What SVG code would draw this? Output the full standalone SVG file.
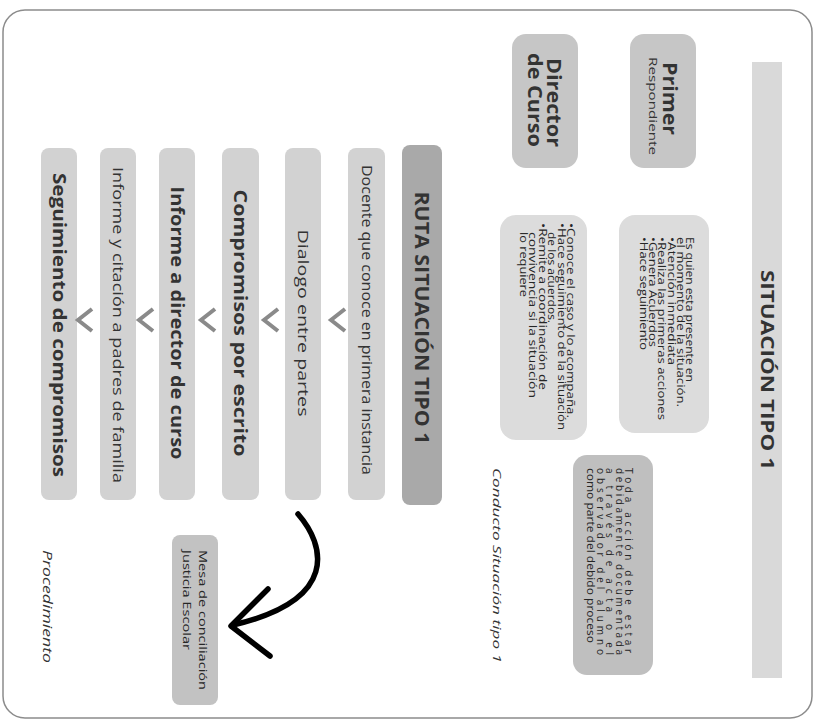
<svg xmlns="http://www.w3.org/2000/svg" width="819" height="722" viewBox="0 0 819 722">
<style>
text{font-family:"Open Sans","DejaVu Sans",sans-serif;fill:#333}
.b{font-weight:bold}
.sm{font-size:10px;fill:#262626}
.it{font-style:italic}
.step{fill:#d2d2d2}
.chev{fill:none;stroke:#8a8a8a;stroke-width:4}
</style>
<rect x="3" y="10" width="809" height="708" rx="22" fill="#fff" stroke="#8c8c8c" stroke-width="1.5"/>
<g transform="translate(819,0) rotate(90)">
  <g id="title">
    <rect x="62" y="37" width="616" height="30" fill="#d9d9d9"/>
    <text x="370" y="58" class="b" font-size="18" text-anchor="middle" textLength="200" lengthAdjust="spacingAndGlyphs">SITUACIÓN TIPO 1</text>
  </g>
  <g id="primer">
    <rect x="34" y="123" width="134" height="66" rx="14" fill="#c6c6c6"/>
    <text x="62" y="156" class="b" font-size="20" textLength="73" lengthAdjust="spacingAndGlyphs">Primer</text>
    <text x="57" y="170" font-size="11" textLength="98" lengthAdjust="spacingAndGlyphs">Respondiente</text>
  </g>
  <g id="director">
    <rect x="34" y="241" width="134" height="66" rx="14" fill="#c6c6c6"/>
    <text x="58" y="272" class="b" font-size="20" textLength="89" lengthAdjust="spacingAndGlyphs">Director</text>
    <text x="53" y="291" class="b" font-size="20" textLength="94" lengthAdjust="spacingAndGlyphs">de Curso</text>
  </g>
  <g id="box-primer">
    <rect x="215" y="110" width="218" height="90" rx="16" fill="#dcdcdc"/>
    <text class="sm">
      <tspan x="237" y="133" textLength="145" lengthAdjust="spacingAndGlyphs">Es quien esta presente en</tspan>
      <tspan x="237" y="142.2" textLength="170" lengthAdjust="spacingAndGlyphs">el momento de la situación.</tspan>
      <tspan x="237" y="151.4" textLength="128" lengthAdjust="spacingAndGlyphs">•Atención inmediata</tspan>
      <tspan x="237" y="160.6" textLength="183" lengthAdjust="spacingAndGlyphs">•Realiza las primeras acciones</tspan>
      <tspan x="237" y="169.8" textLength="110" lengthAdjust="spacingAndGlyphs">•Genera Acuerdos</tspan>
      <tspan x="237" y="179" textLength="113" lengthAdjust="spacingAndGlyphs">•Hace seguimiento</tspan>
    </text>
  </g>
  <g id="box-director">
    <rect x="215" y="232" width="225" height="87" rx="16" fill="#dcdcdc"/>
    <text class="sm">
      <tspan x="223" y="252" textLength="195" lengthAdjust="spacingAndGlyphs">•Conoce el caso y lo acompaña.</tspan>
      <tspan x="223" y="261.4" textLength="207" lengthAdjust="spacingAndGlyphs">•Hace seguimiento de la situación</tspan>
      <tspan x="232" y="270.8" textLength="91" lengthAdjust="spacingAndGlyphs">de los acuerdos.</tspan>
      <tspan x="223" y="280.2" textLength="167" lengthAdjust="spacingAndGlyphs">•Remite a coordinación de</tspan>
      <tspan x="232" y="289.6" textLength="166" lengthAdjust="spacingAndGlyphs">convivencia si la situación</tspan>
      <tspan x="232" y="299" textLength="65" lengthAdjust="spacingAndGlyphs">lo requiere</tspan>
    </text>
  </g>
  <g id="box-nota">
    <rect x="455" y="166" width="220" height="80" rx="14" fill="#bfbfbf"/>
    <text class="sm">
      <tspan x="468" y="194" textLength="185" lengthAdjust="spacing">Toda acción debe estar</tspan>
      <tspan x="468" y="203.5" textLength="187" lengthAdjust="spacing">debidamente documentada</tspan>
      <tspan x="468" y="213" textLength="187" lengthAdjust="spacing">a través de acta o el</tspan>
      <tspan x="468" y="222.5" textLength="187" lengthAdjust="spacing">observador del alumno</tspan>
      <tspan x="468" y="232" textLength="175" lengthAdjust="spacingAndGlyphs">como parte del debido proceso</tspan>
    </text>
  </g>
  <g id="conducto">
    <text x="468" y="326" class="it" font-size="11" textLength="195" lengthAdjust="spacingAndGlyphs">Conducto Situación tipo 1</text>
  </g>
  <g id="ruta">
    <rect x="145" y="377" width="360" height="40" rx="8" fill="#a9a9a9"/>
    <text x="318" y="404" class="b" font-size="19" text-anchor="middle" textLength="253" lengthAdjust="spacingAndGlyphs">RUTA SITUACIÓN TIPO 1</text>
  </g>
  <g id="docente">
    <rect x="148" y="434" width="352" height="37" rx="8" class="step"/>
    <text x="320" y="457.5" font-size="14" text-anchor="middle" textLength="310" lengthAdjust="spacingAndGlyphs">Docente que conoce en primera instancia</text>
  </g>
  <g id="dialogo">
    <rect x="148" y="498" width="352" height="36" rx="8" class="step"/>
    <text x="323" y="521" font-size="15" text-anchor="middle" textLength="187" lengthAdjust="spacingAndGlyphs">Dialogo entre partes</text>
  </g>
  <g id="compromisos">
    <rect x="148" y="560" width="352" height="37" rx="8" class="step"/>
    <text x="323" y="585" class="b" font-size="18" text-anchor="middle" textLength="267" lengthAdjust="spacingAndGlyphs">Compromisos por escrito</text>
  </g>
  <g id="informe-director">
    <rect x="148" y="624" width="352" height="36" rx="8" class="step"/>
    <text x="323" y="648" class="b" font-size="18" text-anchor="middle" textLength="273" lengthAdjust="spacingAndGlyphs">Informe a director de curso</text>
  </g>
  <g id="informe-padres">
    <rect x="148" y="683" width="352" height="36" rx="8" class="step"/>
    <text x="325" y="706" font-size="14.5" text-anchor="middle" textLength="316" lengthAdjust="spacingAndGlyphs">Informe y citación a padres de familia</text>
  </g>
  <g id="seguimiento">
    <rect x="148" y="742" width="352" height="36" rx="8" class="step"/>
    <text x="325" y="766" class="b" font-size="18" text-anchor="middle" textLength="304" lengthAdjust="spacingAndGlyphs">Seguimiento de compromisos</text>
  </g>
  <g id="mesa">
    <rect x="535" y="601" width="170" height="46" rx="8" fill="#c2c2c2"/>
    <text class="sm" font-size="11">
      <tspan x="550" y="620" textLength="140" lengthAdjust="spacingAndGlyphs">Mesa de conciliación</tspan>
      <tspan x="550" y="636" textLength="100" lengthAdjust="spacingAndGlyphs">Justicia Escolar</tspan>
    </text>
  </g>
  <g id="procedimiento">
    <text x="550" y="776" class="it" font-size="12" textLength="113" lengthAdjust="spacingAndGlyphs">Procedimiento</text>
  </g>
</g>
<g id="connectors">
  <polyline class="chev" points="345,309 331,320 345,331"/>
  <polyline class="chev" points="278,309 264,320 278,331"/>
  <polyline class="chev" points="215,309 201,320 215,331"/>
  <polyline class="chev" points="153,309 139,320 153,331"/>
  <polyline class="chev" points="92,309 78,320 92,331"/>
  <path d="M298,514 C325,545 340,600 233,625" fill="none" stroke="#000" stroke-width="5.5" stroke-linecap="round"/>
  <path d="M268,589 L231,626 L270,656" fill="none" stroke="#000" stroke-width="5.5" stroke-linecap="round" stroke-linejoin="round"/>
</g>
</svg>
